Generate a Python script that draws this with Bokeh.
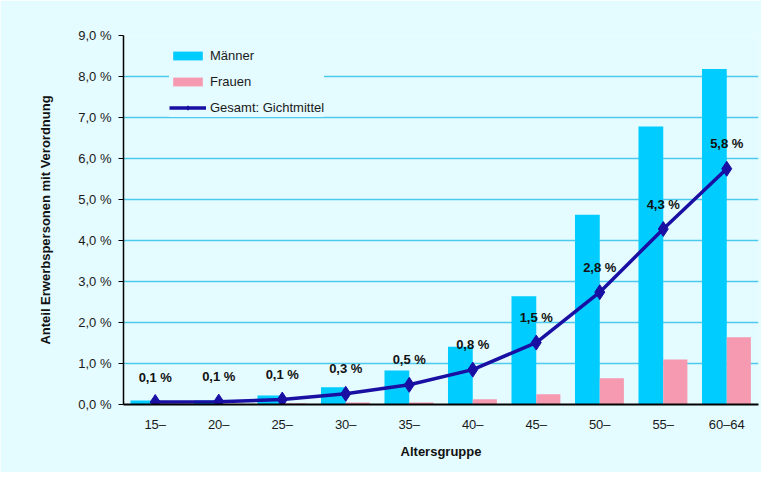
from bokeh.plotting import figure
from bokeh.models import ColumnDataSource, FactorRange, FixedTicker, Legend, LegendItem, LabelSet
from bokeh.transform import dodge
from bokeh.core.properties import value
from bokeh.embed import file_html
from bokeh.resources import INLINE

cats = ["15–", "20–", "25–", "30–", "35–", "40–", "45–", "50–", "55–", "60–64"]
maenner = [0.10, 0.10, 0.22, 0.42, 0.83, 1.41, 2.64, 4.63, 6.78, 8.18]
frauen = [0.01, 0.02, 0.03, 0.05, 0.05, 0.13, 0.25, 0.64, 1.10, 1.64]
gesamt = [0.06, 0.07, 0.12, 0.26, 0.48, 0.85, 1.51, 2.74, 4.28, 5.75]
gesamt_labels = ["0,1 %", "0,1 %", "0,1 %", "0,3 %", "0,5 %", "0,8 %", "1,5 %", "2,8 %", "4,3 %", "5,8 %"]
y_ticks = [0, 1, 2, 3, 4, 5, 6, 7, 8, 9]
y_tick_labels = ["0,0 %", "1,0 %", "2,0 %", "3,0 %", "4,0 %", "5,0 %", "6,0 %", "7,0 %", "8,0 %", "9,0 %"]

BG = "#e4fbff"
FONT = "Liberation Sans"

src = ColumnDataSource(dict(cat=cats, m=maenner, f=frauen, g=gesamt, lab=gesamt_labels))

p = figure(width=761, height=472, x_range=FactorRange(factors=cats, range_padding=0),
           y_range=(0, 9), output_backend="svg", toolbar_location=None,
           min_border_left=123, min_border_right=3, min_border_top=35, min_border_bottom=68)
p.background_fill_color = BG
p.border_fill_color = BG
p.outline_line_color = None

r_m = p.vbar(x=dodge("cat", -0.195, range=p.x_range), top="m", width=0.39, source=src,
             fill_color="#00ccff", line_color=None)
r_f = p.vbar(x=dodge("cat", 0.19, range=p.x_range), top="f", width=0.38, source=src,
             fill_color="#f59ab0", line_color=None)
r_l = p.line(x="cat", y="g", source=src, line_color="#1a0fa3", line_width=3.5)
r_s = p.scatter(x="cat", y="g", source=src, marker="diamond", size=15,
                fill_color="#1a0fa3", line_color="#1a0fa3")

labels = LabelSet(x="cat", y="g", text="lab", source=src, text_align="center",
                  text_baseline="middle", y_offset=25, text_font=value(FONT),
                  text_font_size="13px", text_font_style="bold", text_color="#111111")
p.add_layout(labels)

# grid
p.xgrid.grid_line_color = None
p.ygrid.grid_line_color = "#4ccaee"
p.ygrid.grid_line_width = 1.5
p.ygrid.ticker = FixedTicker(ticks=y_ticks)

# y axis
p.yaxis.ticker = FixedTicker(ticks=y_ticks)
p.yaxis.major_label_overrides = {t: l for t, l in zip(y_ticks, y_tick_labels)}
p.yaxis.axis_line_color = "black"
p.yaxis.axis_line_width = 1.5
p.yaxis.major_tick_out = 5
p.yaxis.major_tick_in = 0
p.yaxis.minor_tick_line_color = None
p.yaxis.major_tick_line_color = "black"
p.yaxis.major_label_standoff = 7
p.yaxis.axis_label = "Anteil Erwerbspersonen mit Verordnung"
p.yaxis.axis_label_standoff = 22

# x axis
p.xaxis.axis_line_color = "black"
p.xaxis.axis_line_width = 2
p.xaxis.major_tick_line_color = None
p.xaxis.major_tick_out = 0
p.xaxis.major_tick_in = 0
p.xaxis.major_label_standoff = 12
p.xaxis.axis_label = "Altersgruppe"
p.xaxis.axis_label_standoff = 9

for ax in (p.xaxis, p.yaxis):
    ax.major_label_text_font = FONT
    ax.major_label_text_font_size = "13px"
    ax.major_label_text_color = "#1a1a1a"
    ax.axis_label_text_font = FONT
    ax.axis_label_text_font_size = "13px"
    ax.axis_label_text_font_style = "bold"
    ax.axis_label_text_color = "#111111"

legend = Legend(items=[
    LegendItem(label="Männer", renderers=[r_m]),
    LegendItem(label="Frauen", renderers=[r_f]),
    LegendItem(label="Gesamt: Gichtmittel", renderers=[r_l, r_s]),
], location=(46, 287), padding=10, spacing=6, margin=0,
    glyph_width=37, glyph_height=11, label_height=20, label_standoff=4,
    label_text_font=FONT, label_text_font_size="13px", label_text_color="#1a1a1a",
    background_fill_color=BG, background_fill_alpha=1.0, border_line_color=None)
p.add_layout(legend)

open("out.html", "w").write(file_html(p, INLINE))
